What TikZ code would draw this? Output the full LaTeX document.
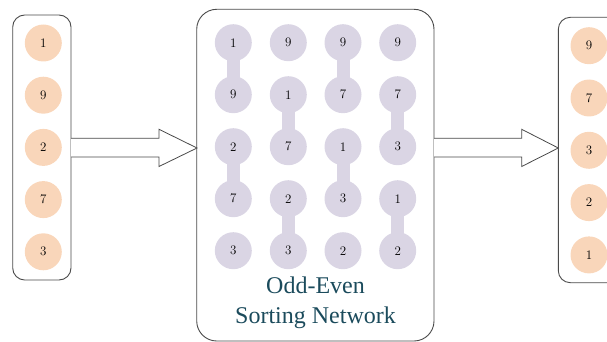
\documentclass[tikz,border=0pt]{standalone}
\usepackage{fontspec}
\newfontfamily\labelfont{Liberation Serif}
\usetikzlibrary{backgrounds}
\definecolor{peach}{HTML}{F9D6BA}
\definecolor{lilac}{HTML}{DAD5E4}
\definecolor{frame}{HTML}{4A4A4A}
\definecolor{teal}{HTML}{1B4B5C}
\tikzset{
  panel/.style={draw=frame, line width=0.9pt},
  ball/.style={circle, minimum size=37pt, inner sep=0pt, font=\fontsize{13}{15}\selectfont},
  inball/.style={ball, fill=peach},
  netball/.style={ball, fill=lilac},
  link/.style={draw=lilac, line width=13pt},
  blockarrow/.style={draw=frame, line width=0.8pt, fill=white, line join=miter},
}
\begin{document}
\begin{tikzpicture}[x=1pt, y=-1pt]
\useasboundingbox (0,0) rectangle (607,342);
\begin{scope}
\clip (0,0) rectangle (607,342);

% input column
\draw[panel, rounded corners=12pt] (12.7,15) rectangle (71,280);
\foreach \v [count=\i] in {1,9,2,7,3}
  \node[inball] (in\i) at (43.3, {43+52.2*(\i-1)}) {\v};

% sorting network
\draw[panel, rounded corners=20pt] (196.7,9.3) rectangle (434,341);
\foreach \col/\x in {1/233.3, 2/288.3, 3/343, 4/397.7} {
  \foreach \row in {1,...,5}
    \coordinate (p\col-\row) at (\x, {42.7+52*(\row-1)});
}
\foreach \col/\vals in {1/{1,9,2,7,3}, 2/{9,1,7,2,3}, 3/{9,7,1,3,2}, 4/{9,7,3,1,2}} {
  \foreach \v [count=\row] in \vals
    \node[netball] (n\col-\row) at (p\col-\row) {\v};
}
\begin{scope}[on background layer]
  \foreach \a/\b in {1-1/1-2, 1-3/1-4, 2-2/2-3, 2-4/2-5, 3-1/3-2, 3-3/3-4, 4-2/4-3, 4-4/4-5}
    \draw[link] (n\a.center) -- (n\b.center);
\end{scope}
\node[text=teal, font=\labelfont\fontsize{24}{30}\selectfont, align=center, inner sep=0pt]
  (title) at (315.5,303) {Odd-Even\\Sorting Network};

% output column
\draw[panel, rounded corners=12pt] (558.3,17.3) rectangle (625,282.7);
\foreach \v [count=\i] in {9,7,3,2,1}
  \node[inball] (out\i) at (589, {45.7+52.3*(\i-1)}) {\v};

% block arrows between the panels
\draw[blockarrow] (71,138.3) -- (159,138.3) -- (159,129.3) -- (197,148)
  -- (159,166.5) -- (159,157) -- (71,157);
\draw[blockarrow] (434,138.3) -- (521.7,138.3) -- (521.7,129.3) -- (558.3,148)
  -- (521.7,166.5) -- (521.7,157) -- (434,157);
\end{scope}
\end{tikzpicture}
\end{document}
